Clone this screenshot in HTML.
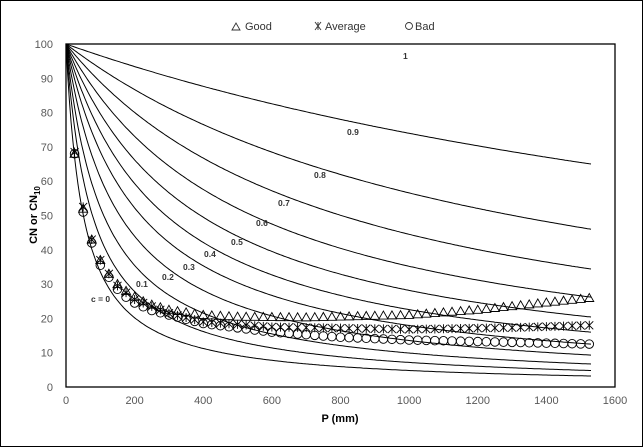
<!DOCTYPE html>
<html><head><meta charset="utf-8"><style>
html,body{margin:0;padding:0;background:#fff}
svg{display:block;font-family:"Liberation Sans",sans-serif}
</style></head><body>
<svg id="s" width="643" height="447" viewBox="0 0 643 447" xmlns="http://www.w3.org/2000/svg">
<rect x="0.5" y="0.5" width="642" height="446" fill="#fff" stroke="#000" stroke-width="1"/>
<rect x="66" y="44" width="549" height="343" fill="none" stroke="#000" stroke-width="1.3"/>
<g font-size="11" fill="#333">
<path d="M232,30 L236,23 L240,30 Z" fill="none" stroke="#333" stroke-width="0.9"/><text x="245" y="30">Good</text>
<path d="M315,22 L321,30 M315,30 L321,22 M318,22 L318,30" stroke="#333" stroke-width="0.9"/><text x="325" y="30">Average</text>
<circle cx="409" cy="26" r="3.5" fill="none" stroke="#333" stroke-width="0.9"/><text x="415" y="30">Bad</text>
</g>
<g id="ticks" font-size="11" fill="#595959"></g>
<g id="curves" fill="none" stroke="#000" stroke-width="1"></g>
<g id="marks" fill="none" stroke="#000" stroke-width="0.9"></g>
<g font-size="8.5" font-weight="bold" fill="#333">
<text x="403" y="59">1</text><text x="347" y="135">0.9</text><text x="314" y="178">0.8</text>
<text x="278" y="206">0.7</text><text x="256" y="226">0.6</text><text x="231" y="245">0.5</text>
<text x="204" y="257">0.4</text><text x="183" y="270">0.3</text><text x="162" y="280">0.2</text>
<text x="136" y="287">0.1</text><text x="91" y="302">c = 0</text>
</g>
<text x="340" y="422" font-size="11" font-weight="bold" fill="#000" text-anchor="middle">P (mm)</text>
<text transform="translate(37,215) rotate(-90)" font-size="11" font-weight="bold" fill="#000" text-anchor="middle">CN or CN<tspan font-size="8" dy="3">10</tspan></text>
</svg>
<script>
var X=function(p){return 66+p*549/1600},Y=function(v){return 387-v*3.43};
var ns="http://www.w3.org/2000/svg";
function el(g,t,a){var e=document.createElementNS(ns,t);for(var k in a)e.setAttribute(k,a[k]);document.getElementById(g).appendChild(e);return e;}
for(var v=0;v<=100;v+=10){var t=el("ticks","text",{x:53,y:Y(v)+4,"text-anchor":"end"});t.textContent=v;}
for(var p=0;p<=1600;p+=200){var t=el("ticks","text",{x:X(p),y:404,"text-anchor":"middle"});t.textContent=p;}
var ends=[65,46,34.4,26.2,20.4,16,12.5,9.3,6.7,4.8,3.2];
ends.forEach(function(e){var k=(100/e-1)/1530,d="";for(var p=0;p<=1530;p+=5){d+=(p?"L":"M")+X(p).toFixed(1)+","+Y(100/(1+k*p)).toFixed(1);}el("curves","path",{d:d});});
function interp(pts,p){for(var i=0;i<pts.length-1;i++){if(p<=pts[i+1][0]){var a=pts[i],b=pts[i+1];return a[1]+(b[1]-a[1])*(p-a[0])/(b[0]-a[0]);}}return pts[pts.length-1][1];}
var G=[[25,68],[50,52],[75,43],[100,37],[125,33],[150,30],[175,28],[200,26.3],[225,25],[250,24],[300,22.5],[400,21],[500,20.5],[700,20.3],[1000,21],[1200,22.5],[1530,26]];
var A=[[25,68.5],[50,52.5],[75,43],[100,37],[125,33],[150,29.5],[175,27.5],[200,25.5],[250,23.5],[300,21.5],[400,19],[600,17.5],[1000,16.8],[1300,17.3],[1530,18]];
var B=[[25,68],[50,51],[75,42],[100,35.5],[125,32],[150,28.5],[175,26.2],[200,24.5],[250,22.3],[300,21],[400,18.5],[600,16],[800,14.5],[1000,13.7],[1530,12.5]];
for(var p=25;p<=1530;p+=25){
 var x=X(p),y;
 y=Y(interp(G,p));el("marks","path",{d:"M"+(x-4.5)+","+(y+3.5)+"L"+x+","+(y-4.5)+"L"+(x+4.5)+","+(y+3.5)+"Z"});
 y=Y(interp(A,p));el("marks","path",{d:"M"+(x-4)+","+(y-4)+"L"+(x+4)+","+(y+4)+"M"+(x-4)+","+(y+4)+"L"+(x+4)+","+(y-4)+"M"+x+","+(y-4.5)+"L"+x+","+(y+4.5)});
 y=Y(interp(B,p));el("marks","circle",{cx:x,cy:y,r:4.3});
}
</script>
</body></html>
